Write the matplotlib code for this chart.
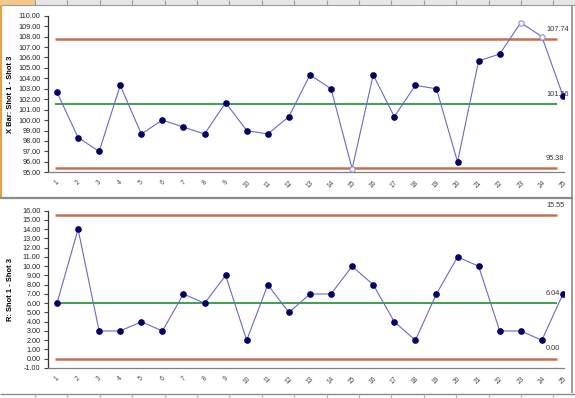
import numpy as np
import matplotlib
matplotlib.use("Agg")
import matplotlib.pyplot as plt

plt.rcParams["font.family"] = ["Liberation Sans", "DejaVu Sans"]

W, H = 575, 398

subgroups = list(range(1, 26))

xbar = [102.67, 98.33, 97.00, 103.33, 98.67, 100.00, 99.33, 98.67, 101.67, 99.00,
        98.67, 100.33, 104.33, 103.00, 95.33, 104.33, 100.33, 103.33, 103.00, 96.00,
        105.67, 106.33, 109.33, 108.00, 102.33]
xbar_ucl, xbar_cl, xbar_lcl = 107.74, 101.56, 95.38

ranges = [6, 14, 3, 3, 4, 3, 7, 6, 9, 2, 8, 5, 7, 7, 10, 8, 4, 2, 7, 11, 10, 3, 3, 2, 7]
r_ucl, r_cl, r_lcl = 15.55, 6.04, 0.00

LIMIT_COLOR = "#c8704e"
CENTER_COLOR = "#2e9a3a"
LINE_COLOR = "#6a6ac0"
DOT_COLOR = "#000066"
OPEN_EDGE = "#8a8ae6"

AX_LEFT, AX_RIGHT = 47.5, 564


def px(x0, y0, x1, y1):
    return [x0 / W, 1 - y1 / H, (x1 - x0) / W, (y1 - y0) / H]


def control_chart(ax, values, ucl, cl, lcl, ylo, yhi, ylabel):
    x = np.array(subgroups)
    y = np.array(values, dtype=float)

    ax.hlines([ucl, lcl], 0.9, 24.72, color=LIMIT_COLOR, lw=1.8, zorder=2)
    ax.hlines(cl, 0.9, 24.72, color=CENTER_COLOR, lw=1.3, zorder=2)

    ax.plot(x, y, color=LINE_COLOR, lw=0.8, zorder=3)
    out = (y > ucl) | (y < lcl)
    ax.plot(x[~out], y[~out], "o", ms=3.8, color=DOT_COLOR, zorder=4)
    ax.plot(x[out], y[out], "o", ms=3.8, mfc="white", mec=OPEN_EDGE, mew=0.8, zorder=4)

    ax.set_xlim(0.55, 25.05)
    ax.set_ylim(ylo, yhi)
    ticks = np.arange(ylo, yhi + 0.5, 1)
    ax.set_yticks(ticks)
    ax.set_yticklabels([f"{v:.2f}" for v in ticks], fontsize=5.2, color="#222222")
    ax.set_xticks(x)
    ax.set_xticklabels([str(i) for i in subgroups], fontsize=4.8, rotation=45,
                       ha="center", va="top", color="#444444")
    ax.tick_params(axis="y", length=3, width=0.8, pad=2, color="#444444")
    ax.tick_params(axis="x", length=0, pad=5)

    for side in ["top", "right"]:
        ax.spines[side].set_visible(False)
    ax.spines["left"].set_color("#333333")
    ax.spines["left"].set_linewidth(0.9)
    ax.spines["bottom"].set_color("#808080")
    ax.spines["bottom"].set_linewidth(0.9)

    ax.set_ylabel(ylabel, fontsize=5.4, fontweight="bold")
    ax.yaxis.set_label_coords((14 - AX_LEFT) / (AX_RIGHT - AX_LEFT), 0.5)

    for val in (ucl, cl, lcl):
        ax.annotate(f"{val:.2f}", xy=(25.05, val), xycoords="data",
                    xytext=(-13, 4.5), textcoords="offset points",
                    fontsize=5.3, color="#333333", ha="left", va="bottom",
                    annotation_clip=False)


fig = plt.figure(figsize=(W / 100, H / 100), dpi=100)
fig.patch.set_facecolor("white")

# spreadsheet frame behind the charts
bg = fig.add_axes([0, 0, 1, 1], zorder=-1)
bg.set_xlim(0, W)
bg.set_ylim(H, 0)
bg.axis("off")
bg.add_patch(plt.Rectangle((0, 0), W, 4.5, color="#e6e6e6", lw=0))
bg.add_patch(plt.Rectangle((0, 0), 35, 4.5, color="#f3c88a", lw=0))
cols = np.arange(35, W, 32.4)
bg.vlines(cols, 0, 4.5, color="#9a9a9a", lw=0.8)
bg.hlines(4.5, 0, W, color="#9a9a9a", lw=0.8)
bg.vlines(1.0, 4.5, 197, color="#e8a040", lw=1.5)
bg.hlines(197.5, 0, 573, color="#8c8c8c", lw=1.6)
bg.vlines(572, 4.5, 393, color="#8c8c8c", lw=1.2)
bg.hlines(393.5, 0, W, color="#8c8c8c", lw=1.0)
bg.vlines(cols, 393.5, H, color="#b0b0b0", lw=0.8)

ax1 = fig.add_axes(px(AX_LEFT, 15.7, AX_RIGHT, 172.3))
control_chart(ax1, xbar, xbar_ucl, xbar_cl, xbar_lcl, 95, 110, "X Bar: Shot 1 - Shot 3")

ax2 = fig.add_axes(px(AX_LEFT, 210.7, AX_RIGHT, 368))
control_chart(ax2, ranges, r_ucl, r_cl, r_lcl, -1, 16, "R: Shot 1 - Shot 3")

fig.savefig("out.png", dpi=100)
